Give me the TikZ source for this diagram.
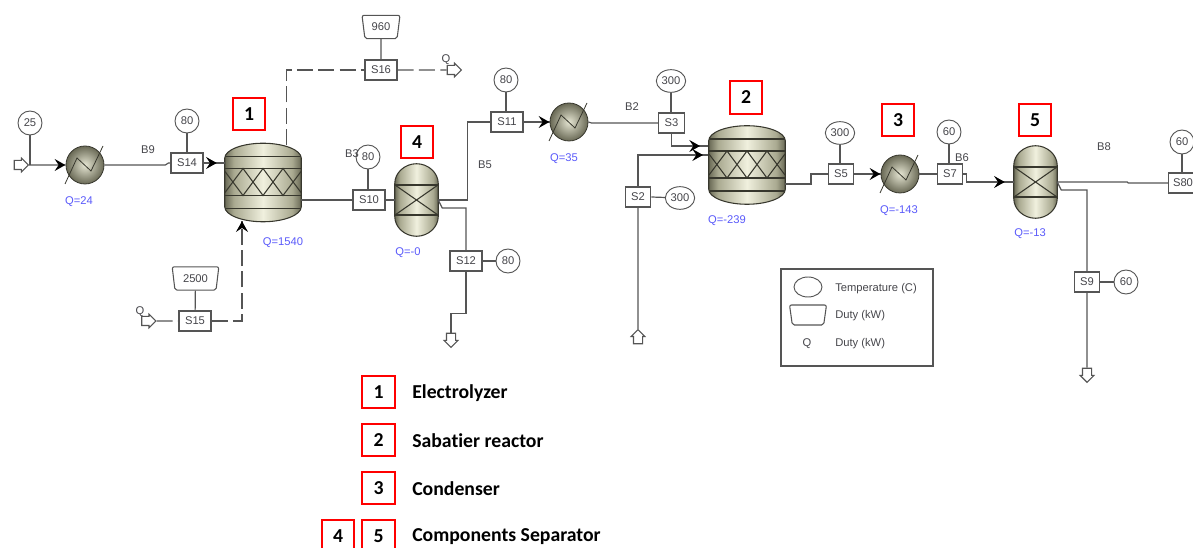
\documentclass[tikz,border=0pt]{standalone}
\usepackage{fontspec}
\setmainfont{Liberation Sans}
\newfontfamily\calfont[Ligatures=NoCommon]{Carlito}
\usetikzlibrary{positioning, arrows.meta, shapes.geometric, shapes.arrows, calc, decorations.markings}
\definecolor{linegray}{RGB}{85,85,85}
\definecolor{vesseldark}{RGB}{55,55,45}
\definecolor{vesselside}{RGB}{105,105,85}
\definecolor{vesselmid}{RGB}{170,170,145}
\definecolor{vessellight}{RGB}{240,240,222}
\definecolor{dutyblue}{RGB}{90,90,250}
\definecolor{textgray}{RGB}{70,70,75}
\pgfdeclarehorizontalshading{vesselshade}{100bp}{color(0bp)=(vesselside); color(25bp)=(vesselside); color(31bp)=(vesselmid); color(50bp)=(vessellight); color(69bp)=(vesselmid); color(75bp)=(vesselside); color(100bp)=(vesselside)}
\newcommand{\vesselpath}[3]{([shift={(0,#3)}]#1.north west) .. controls +(0,{-.55*#3}) and +({-.55*#2},0) .. (#1.north) .. controls +({.55*#2},0) and +(0,{-.55*#3}) .. ([shift={(0,#3)}]#1.north east) -- ([shift={(0,-#3)}]#1.south east) .. controls +(0,{.55*#3}) and +({.55*#2},0) .. (#1.south) .. controls +({-.55*#2},0) and +(0,{.55*#3}) .. ([shift={(0,-#3)}]#1.south west) -- cycle}
\newcommand{\vesselbody}[3]{%
    \shade[shading=vesselshade] \vesselpath{#1}{#2}{#3};
    \draw[vesselline] \vesselpath{#1}{#2}{#3};
}

\begin{document}
\begin{tikzpicture}[
    x=0.75pt, y=-0.75pt,
    stream/.style={draw=linegray, line width=0.9pt},
    dutyline/.style={stream, dash pattern=on 12pt off 4pt},
    tipat/.style={postaction={draw=none, decorate}, decoration={markings, mark=at position -#1 with {\arrow[black]{Stealth[length=8pt, width=9pt, inset=3pt]}}}},
    sbox/.style={rectangle, draw=linegray, fill=white, line width=0.9pt, minimum width=#1, minimum height=15pt, inner sep=0pt, font=\fontsize{8.4}{9}\selectfont, text=textgray},
    sbox/.default=24pt,
    tagc/.style={circle, draw=linegray, fill=white, line width=0.7pt, minimum size=18pt, inner sep=0pt, font=\fontsize{8.4}{9}\selectfont, text=textgray},
    tagw/.style={ellipse, draw=linegray, fill=white, line width=0.7pt, minimum width=22pt, minimum height=17pt, inner sep=0pt, font=\fontsize{8.4}{9}\selectfont, text=textgray},
    tagduty/.style={trapezium, shape border rotate=180, trapezium stretches=true, trapezium left angle=78, trapezium right angle=78, rounded corners=1.5pt, draw=linegray, fill=white, line width=0.8pt, minimum width=#1, minimum height=17.5pt, inner sep=0pt, font=\fontsize{8.4}{9}\selectfont, text=textgray},
    heater/.style={circle, draw=vesseldark, inner color=vessellight!85!vesselmid, outer color=vesselside, line width=0.6pt, minimum size=28.5pt, inner sep=0pt},
    vesselline/.style={draw=vesseldark, line width=0.8pt},
    reactor/.style={rectangle, minimum width=57pt, minimum height=58.5pt, inner sep=0pt},
    separator/.style={rectangle, minimum width=32.25pt, minimum height=54pt, inner sep=0pt},
    port/.style={single arrow, draw=linegray, fill=white, line width=0.8pt, text height=6pt, text depth=0pt, text width=0pt, minimum height=10.5pt, single arrow head extend=1.7pt, inner sep=0pt, rotate=#1},
    port/.default=0,
    qlabel/.style={font=\fontsize{8.4}{9}\selectfont, text=dutyblue, inner sep=0pt, yshift=-1.2pt},
    blabel/.style={font=\fontsize{8.4}{9}\selectfont, text=textgray, inner sep=0pt, yshift=-1.2pt},
    redbox/.style={rectangle, draw=red, line width=1.3pt, minimum size=24.5pt, inner sep=0pt, font=\calfont\bfseries\fontsize{14.8}{16}\selectfont},
    keytext/.style={anchor=west, inner sep=0pt, font=\calfont\bfseries\fontsize{14.8}{16}\selectfont}
]
    \useasboundingbox (0,0) rectangle (1193,548);
    \clip (0,0) rectangle (1193,548);

    % vessels
    \node[reactor] (el) at (263,182.5) {};
    \node[reactor] (sa) at (747,165) {};
    \node[separator] (sp1) at (416.5,200) {};
    \node[separator] (sp2) at (1035.5,182) {};
    \foreach \n in {el,sa} {
        \vesselbody{\n}{38}{15}
        \foreach \y in {-26,-14,13,26}
            \draw[vesselline] ([shift={(-38,\y)}]\n.center) -- ([shift={(38,\y)}]\n.center);
        \draw[vesselline] ([shift={(-38,10)}]\n.center) -- ([shift={(-20,-14)}]\n.center) -- ([shift={(0,13)}]\n.center) -- ([shift={(20,-14)}]\n.center) -- ([shift={(38,10)}]\n.center);
        \draw[vesselline] ([shift={(-38,-11)}]\n.center) -- ([shift={(-20,13)}]\n.center) -- ([shift={(0,-14)}]\n.center) -- ([shift={(20,13)}]\n.center) -- ([shift={(38,-11)}]\n.center);
    }
    \foreach \n in {sp1,sp2} {
        \vesselbody{\n}{21.5}{20}
        \foreach \y in {-15,15}
            \draw[vesselline] ([shift={(-21.5,\y)}]\n.center) -- ([shift={(21.5,\y)}]\n.center);
        \draw[vesselline] ([shift={(-21.5,-15)}]\n.center) -- ([shift={(21.5,15)}]\n.center);
        \draw[vesselline] ([shift={(-21.5,15)}]\n.center) -- ([shift={(21.5,-15)}]\n.center);
    }

    % heaters
    \node[heater] (h1) at (85,165) {};
    \node[heater] (h2) at (569,122) {};
    \node[heater] (h3) at (900,174) {};
    \foreach \h in {h1,h2,h3}
        \draw[vesselline, line width=0.6pt] ([shift={(-20,19)}]\h.center) -- ([shift={(-8,-7)}]\h.center) -- ([shift={(6,6)}]\h.center) -- ([shift={(18,-19)}]\h.center);

    % blocks
    \node[sbox] (s14) at (187,163) {S14};
    \node[sbox] (s10) at (369,200) {S10};
    \node[sbox] (s16) at (381,70) {S16};
    \node[sbox] (s15) at (195,321) {S15};
    \node[sbox] (s11) at (507,122) {S11};
    \node[sbox] (s12) at (466,261) {S12};
    \node[sbox=19pt] (s3) at (671.5,123) {S3};
    \node[sbox=19pt] (s2) at (638,197) {S2};
    \node[sbox=19pt] (s5) at (841,174) {S5};
    \node[sbox=19pt] (s7) at (950,174) {S7};
    \node[sbox=19pt] (s9) at (1087,282) {S9};
    \node[sbox=21.75pt] (s8) at (1183,183) {S80};

    % tags
    \node[tagc] (t1) at (30,123) {25};
    \node[tagc] (t14) at (187,121) {80};
    \node[tagc] (t10) at (368,157) {80};
    \node[tagc] (t11) at (506,80) {80};
    \node[tagc] (t12) at (508,261) {80};
    \node[tagc] (t7) at (949,132) {60};
    \node[tagc] (t8) at (1182,142) {60};
    \node[tagc] (t9) at (1126,282) {60};
    \node[tagw] (t3) at (671,81) {300};
    \node[tagw] (t2) at (680,198) {300};
    \node[tagw] (t5) at (840,133) {300};
    \node[tagduty=28.5pt] (t16) at (381,27) {960};
    \node[tagduty=35pt] (t15) at (195.5,278.5) {2500};

    % ports
    \node[port] (in1) at (19,165) {};
    \node[port] (inq) at (146.5,321) {};
    \node[port] (outq) at (452,70) {};
    \node[port=-90] (d1) at (451,338) {};
    \node[port=90] (up1) at (638,339) {};
    \node[port=-90] (d2) at (1087,373) {};
    \coordinate (elq) at (286.5,145);
    \coordinate (elin) at (242,221);
    \coordinate (sain1) at (708,146);
    \coordinate (sain2) at (708,155);
    \coordinate (saout) at (785,184);

    % streams
    \draw[stream, tipat=0.2pt] (in1) -- (h1);
    \draw[stream] (h1.east) -- ++(61,0) -- ++(3,-2) -- (s14.west);
    \draw[stream, tipat=6pt] (s14.east) -- (el.west |- s14.east);
    \draw[stream] (el.east |- s10.west) -- (s10.west);
    \draw[stream] (s10.east) -- (sp1.west);
    \draw[stream] (sp1.east) -- ++(29.5,0) |- (s11.west);
    \draw[stream] (sp1.east) -- ++(4,8) -| (s12.north);
    \draw[stream] (s12.south) -- ++(0,42) -| (d1);
    \draw[stream, tipat=0.2pt] (s11.east) -- (h2);
    \draw[stream] (h2.east) -- ++(3,1) -- (s3.west);
    \draw[stream, tipat=6pt] (s3.south) |- (sain1);
    \draw[stream] (up1) -- (s2.south);
    \draw[stream, tipat=3.75pt] (s2.north) |- (sain2);
    \draw[stream] (saout) -- ++(26,0) |- (s5.west);
    \draw[stream, tipat=0.2pt] (s5.east) -- (h3);
    \draw[stream] (h3.east) -- (s7.west);
    \draw[stream, tipat=6.75pt] (s7.east) -- ++(3,0) |- (sp2.west);
    \draw[stream] (sp2.east) -- ++(70,0) -- ++(1,1) -- (s8.west);
    \draw[stream] (sp2.east) -- ++(4,8) -| (s9.north);
    \draw[stream] (s9.south) -- (d2);

    % duty streams
    \draw[dutyline] (elq) |- (s16.west);
    \draw[dutyline] (s16.east) -- (outq);
    \draw[dutyline] (inq) -- (s15.west);
    \draw[dutyline, tipat=0.2pt] (s15.east) -| (elin);

    % tag ties
    \draw[stream] (t1) -- (t1 |- in1);
    \foreach \a/\b in {t14/s14,t10/s10,t11/s11,t3/s3,t5/s5,t7/s7,t8/s8}
        \draw[stream] (\a) -- (\a |- \b.north);
    \foreach \a/\b in {t12/s12,t2/s2,t9/s9}
        \draw[stream] (\b.east) -- (\a);
    \draw[stream] (t16) -- (s16);
    \draw[stream] (t15) -- (s15);

    % duty and stream labels
    \node[qlabel] (q1) at (79,200) {Q=24};
    \node[qlabel] (q2) at (283,241) {Q=1540};
    \node[qlabel] (q3) at (408,251) {Q=-0};
    \node[qlabel] (q4) at (564,157) {Q=35};
    \node[qlabel] (q5) at (727,219) {Q=-239};
    \node[qlabel] (q6) at (899,209) {Q=-143};
    \node[qlabel] (q7) at (1030,232) {Q=-13};
    \node[blabel] (b9) at (148,148) {B9};
    \node[blabel] (b3) at (352,152) {B3};
    \node[blabel] (b5) at (485,163) {B5};
    \node[blabel] (b2) at (632,105) {B2};
    \node[blabel] (b6) at (962,156) {B6};
    \node[blabel] (b8) at (1104,145) {B8};
    \node[blabel] (qin) at (140,310) {Q};
    \node[blabel] (qout) at (446,58) {Q};

    % numbered boxes
    \node[redbox] (n1) at (249,114) {1};
    \node[redbox] (n2) at (746,97.5) {2};
    \node[redbox] (n3) at (898,120) {3};
    \node[redbox] (n4) at (417,142) {4};
    \node[redbox] (n5) at (1035,120) {5};

    % legend
    \node[rectangle, draw=linegray, line width=0.9pt, minimum width=114pt, minimum height=72.75pt] (legbox) at (857,317.5) {};
    \node[ellipse, draw=linegray, line width=0.7pt, minimum width=21pt, minimum height=15pt, inner sep=0pt] (legt) at (808,287) {};
    \node[tagduty=27.75pt, minimum height=15pt] (legd) at (808,315) {\phantom{000}};
    \node[blabel] (legq) at (807,342) {Q};
    \node[blabel, anchor=west] (legt1) at (835,287) {Temperature (C)};
    \node[blabel, anchor=west] (legd1) at (835,314) {Duty (kW)};
    \node[blabel, anchor=west] (legq1) at (835,342) {Duty (kW)};

    % key
    \node[redbox] (k1) at (378.5,392) {1};
    \node[redbox] (k2) at (378.5,440) {2};
    \node[redbox] (k3) at (378.5,488) {3};
    \node[redbox] (k5) at (378.5,536) {5};
    \node[redbox] (k4) at (338,536) {4};
    \node[keytext] (kt1) at (412,393) {Electrolyzer};
    \node[keytext] (kt2) at (412,441) {Sabatier reactor};
    \node[keytext] (kt3) at (412,489) {Condenser};
    \node[keytext] (kt5) at (412,537) {Components Separator};
\end{tikzpicture}
\end{document}
